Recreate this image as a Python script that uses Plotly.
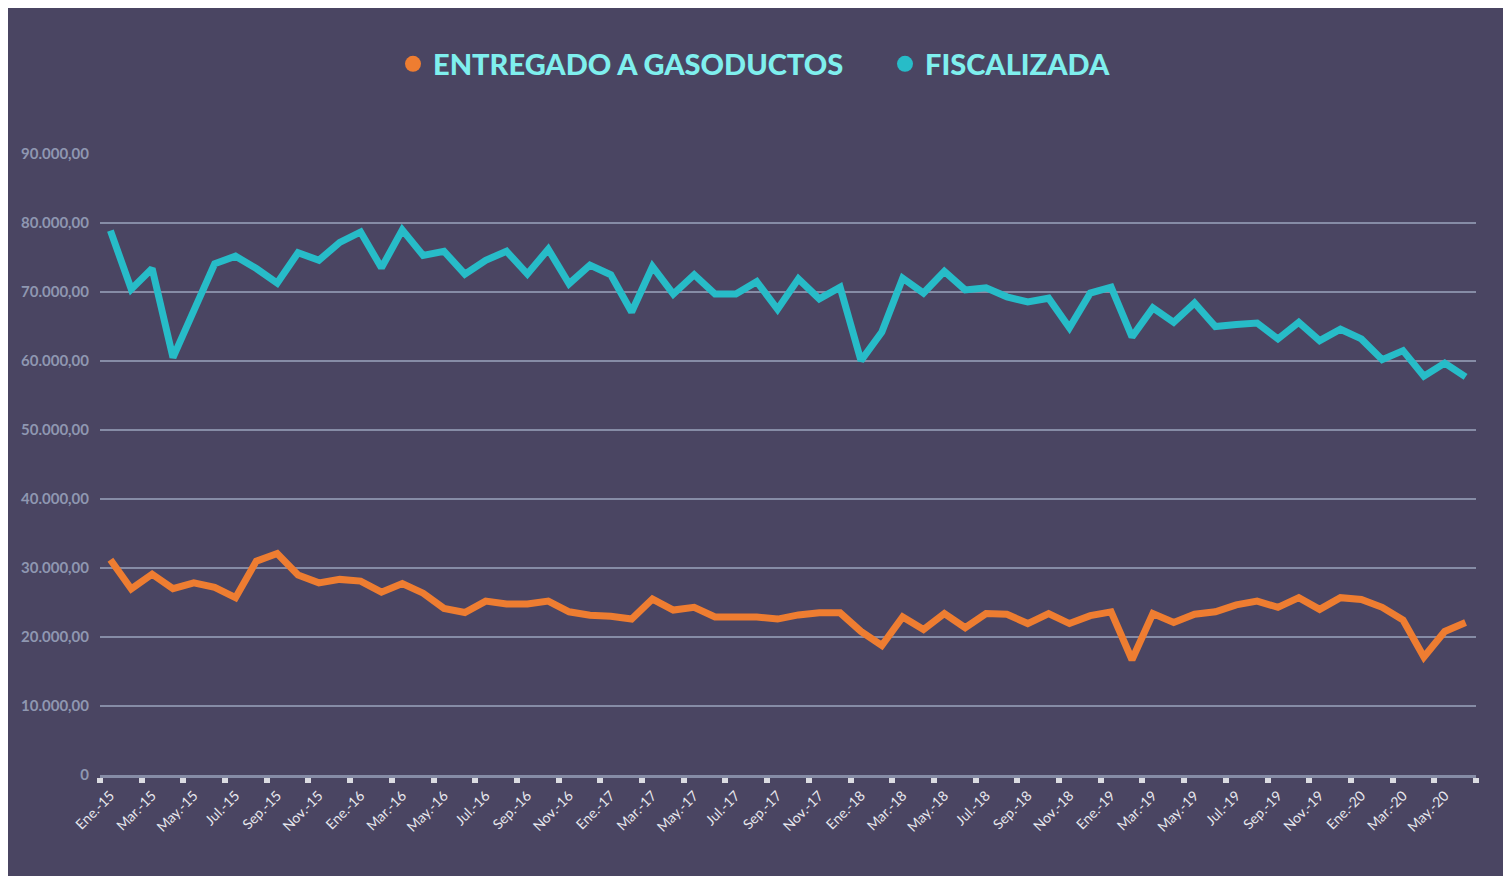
import plotly.graph_objects as go

meses = [
    "Ene.-15", "Feb.-15", "Mar.-15", "Abr.-15", "May.-15", "Jun.-15", "Jul.-15", "Ago.-15", "Sep.-15", "Oct.-15", "Nov.-15", "Dic.-15",
    "Ene.-16", "Feb.-16", "Mar.-16", "Abr.-16", "May.-16", "Jun.-16", "Jul.-16", "Ago.-16", "Sep.-16", "Oct.-16", "Nov.-16", "Dic.-16",
    "Ene.-17", "Feb.-17", "Mar.-17", "Abr.-17", "May.-17", "Jun.-17", "Jul.-17", "Ago.-17", "Sep.-17", "Oct.-17", "Nov.-17", "Dic.-17",
    "Ene.-18", "Feb.-18", "Mar.-18", "Abr.-18", "May.-18", "Jun.-18", "Jul.-18", "Ago.-18", "Sep.-18", "Oct.-18", "Nov.-18", "Dic.-18",
    "Ene.-19", "Feb.-19", "Mar.-19", "Abr.-19", "May.-19", "Jun.-19", "Jul.-19", "Ago.-19", "Sep.-19", "Oct.-19", "Nov.-19", "Dic.-19",
    "Ene.-20", "Feb.-20", "Mar.-20", "Abr.-20", "May.-20", "Jun.-20",
]

fiscalizada = [
    78900, 70400, 73400, 60500, 67300, 74100, 75200, 73400, 71300, 75700, 74600, 77200,
    78700, 73500, 79000, 75300, 75900, 72600, 74600, 75900, 72600, 76200, 71200, 73900,
    72500, 67100, 73700, 69700, 72500, 69700, 69700, 71500, 67500, 71900, 69000, 70700,
    60050, 64200, 72000, 69850, 73000, 70300, 70600, 69300, 68550, 69100, 64800, 69850,
    70700, 63500, 67700, 65600, 68400, 65000, 65300, 65500, 63200, 65600, 62950, 64600,
    63200, 60200, 61500, 57800, 59700, 57700,
]

entregado = [
    31200, 26970, 29100, 27000, 27850, 27200, 25700, 31000, 32100, 29000, 27850, 28350,
    28100, 26500, 27750, 26350, 24150, 23550, 25200, 24800, 24800, 25200, 23650, 23150,
    23000, 22600, 25500, 23900, 24300, 22900, 22900, 22900, 22600, 23200, 23500, 23500,
    20800, 18770, 22900, 21100, 23400, 21350, 23400, 23300, 21950, 23400, 21950, 23100,
    23650, 16700, 23400, 22100, 23300, 23650, 24650, 25200, 24300, 25700, 24000, 25700,
    25450, 24300, 22450, 17100, 20800, 22100,
]

y_ticks = [0, 10000, 20000, 30000, 40000, 50000, 60000, 70000, 80000, 90000]
y_ticktext = ["0", "10.000,00", "20.000,00", "30.000,00", "40.000,00", "50.000,00",
              "60.000,00", "70.000,00", "80.000,00", "90.000,00"]

nombres = ["ENTREGADO A GASODUCTOS", "FISCALIZADA"]
colores = ["#EE7D31", "#27BCC8"]

BG = "#4A4562"
GRID = "#868CA6"

fig = go.Figure()

fig.add_trace(go.Scatter(x=meses, y=fiscalizada, mode="lines", name=nombres[1],
                         line=dict(color=colores[1], width=7), showlegend=False))
fig.add_trace(go.Scatter(x=meses, y=entregado, mode="lines", name=nombres[0],
                         line=dict(color=colores[0], width=7), showlegend=False))

# legend entries (circle markers)
for n, c in zip(nombres, colores):
    fig.add_trace(go.Scatter(x=[None], y=[None], mode="markers", name=n,
                             marker=dict(color=c, size=24, symbol="circle")))

# page body has an 8px margin; figure sits at (8, 8)
OFF = 8
W, H = 1511 - OFF, 876 - OFF
L, R, T, B = 100 - OFF, 35, 154 - OFF, 101
pw, ph = W - L - R, H - T - B

def px(x):
    return (x - OFF - L) / pw

def py(y):
    return (H + OFF - B - y) / ph

# white strip at right edge
fig.add_shape(type="rect", xref="paper", yref="paper",
              x0=px(1505), x1=px(1520), y0=py(900), y1=py(0),
              fillcolor="white", line=dict(width=0), layer="below")

fig.update_layout(
    width=W, height=H,
    margin=dict(l=L, r=R, t=T, b=B),
    paper_bgcolor=BG,
    plot_bgcolor="rgba(0,0,0,0)",
    showlegend=True,
    legend=dict(orientation="h", x=px(393), y=py(64), xanchor="left", yanchor="middle",
                font=dict(family="Lato", size=29, color="#7FEFEE", weight=900),
                itemsizing="trace", bgcolor="rgba(0,0,0,0)",
                entrywidth=447, entrywidthmode="pixels"),
    xaxis=dict(
        type="category",
        range=[-0.5, len(meses) - 0.5],
        dtick=2, tick0=0,
        tickson="boundaries",
        ticks="outside", ticklen=5, tickwidth=6, tickcolor="#DCDCE2",
        showgrid=False,
        showline=True, linecolor=GRID, linewidth=3,
        tickangle=-45,
        tickfont=dict(family="Lato", size=14, color="#E8E8EE", weight=400),
        ticklabelstandoff=4,
        zeroline=False,
    ),
    yaxis=dict(
        range=[0, 90000],
        tickvals=y_ticks, ticktext=y_ticktext,
        showgrid=True, gridcolor=GRID, gridwidth=2,
        zeroline=False, showline=False,
        ticks="",
        tickfont=dict(family="Lato", size=15, color="#8F97B1", weight=700),
        ticklabelstandoff=10,
    ),
)

fig.write_html("out.html")
